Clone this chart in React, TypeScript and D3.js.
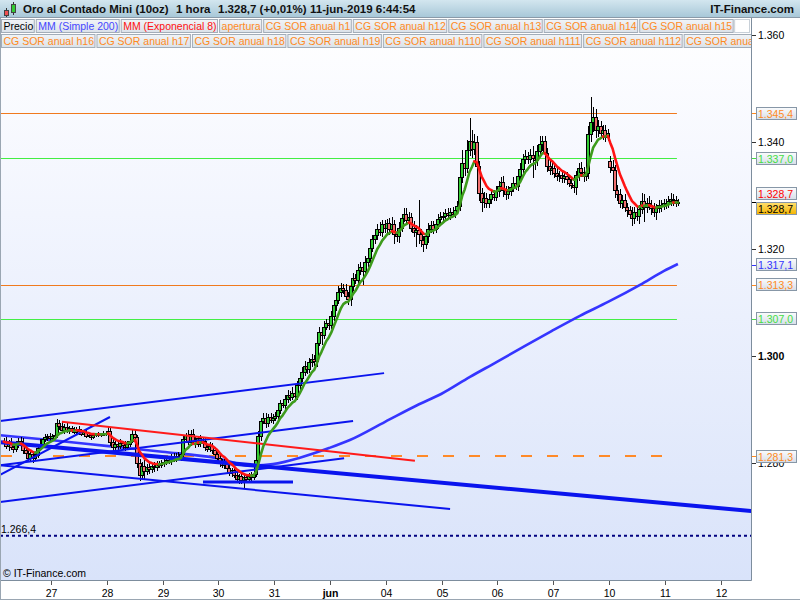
import React, { useEffect } from "react";
import * as d3 from "d3";

// ---------- DATA ----------
const dayLabels = ["27", "28", "29", "30", "31", "jun", "04", "05", "06", "07", "10", "11", "12"];
const candlesPerDay = 23;

// hourly closes (USD), one array per trading day
const may24Close = [1284.0, 1283.2, 1283.8, 1283.0, 1282.6, 1283.5, 1284.2, 1283.8, 1282.5, 1281.8, 1281.0, 1281.6, 1280.9, 1281.5, 1282.8, 1283.6, 1284.4, 1284.8, 1285.0, 1284.7];
const may27Close = [1285.0, 1285.3, 1287.5, 1287.0, 1286.2, 1286.8, 1286.0, 1286.5, 1286.2, 1285.8, 1286.4, 1286.0, 1285.5, 1285.8, 1285.0, 1285.2, 1284.8, 1285.3, 1285.2, 1285.4, 1285.3, 1285.5, 1285.4];
const may28Close = [1286.0, 1284.0, 1283.0, 1283.5, 1283.2, 1283.8, 1283.4, 1283.0, 1283.6, 1284.2, 1285.5, 1284.8, 1280.0, 1277.8, 1279.5, 1278.5, 1279.2, 1278.8, 1279.5, 1279.2, 1279.8, 1279.6, 1280.0];
const may29Close = [1280.2, 1280.6, 1280.4, 1281.0, 1280.8, 1281.4, 1281.0, 1281.6, 1284.5, 1285.2, 1284.0, 1285.5, 1284.2, 1283.5, 1284.6, 1283.8, 1284.2, 1283.0, 1282.6, 1283.2, 1282.4, 1281.6, 1281.0];
const may30Close = [1280.0, 1279.6, 1280.2, 1279.0, 1278.2, 1278.6, 1277.8, 1277.0, 1277.5, 1276.8, 1277.3, 1277.0, 1277.6, 1277.4, 1278.0, 1280.5, 1285.0, 1287.8, 1288.5, 1287.5, 1288.6, 1288.0, 1288.4];
const may31Close = [1288.8, 1290.0, 1291.2, 1290.8, 1292.0, 1292.8, 1292.4, 1293.0, 1292.6, 1294.5, 1295.8, 1297.0, 1298.2, 1297.6, 1298.8, 1299.5, 1299.0, 1302.5, 1304.5, 1304.0, 1305.5, 1306.2, 1305.8];
const jun03Close = [1307.5, 1309.5, 1310.5, 1312.0, 1312.8, 1312.4, 1311.2, 1310.6, 1313.0, 1314.5, 1314.2, 1316.0, 1316.6, 1315.8, 1317.6, 1318.4, 1320.2, 1321.8, 1322.6, 1323.8, 1323.2, 1324.6, 1324.0];
const jun04Close = [1324.8, 1323.8, 1324.6, 1322.8, 1322.4, 1324.0, 1325.8, 1326.6, 1325.4, 1326.0, 1324.0, 1323.2, 1323.6, 1322.8, 1321.6, 1321.0, 1322.4, 1323.8, 1324.4, 1323.8, 1324.6, 1325.6, 1326.0];
const jun05Close = [1326.2, 1326.8, 1326.4, 1327.0, 1326.6, 1327.2, 1328.0, 1333.5, 1336.0, 1335.2, 1338.5, 1340.2, 1338.6, 1340.0, 1335.5, 1330.5, 1328.8, 1329.6, 1328.6, 1329.4, 1330.2, 1329.8, 1330.8];
const jun06Close = [1331.8, 1332.6, 1331.0, 1330.2, 1330.8, 1331.6, 1332.4, 1331.8, 1333.6, 1335.0, 1336.8, 1337.4, 1336.8, 1337.6, 1337.0, 1336.6, 1338.4, 1339.6, 1340.2, 1338.0, 1335.6, 1334.8, 1335.2];
const jun07Close = [1334.2, 1333.6, 1333.8, 1333.2, 1333.6, 1333.0, 1332.4, 1332.0, 1331.6, 1333.8, 1335.2, 1334.4, 1333.6, 1334.2, 1341.5, 1343.8, 1344.6, 1342.2, 1343.0, 1341.6, 1342.2, 1341.0, 1341.6];
const jun10Close = [1335.4, 1334.8, 1331.0, 1330.2, 1328.6, 1329.2, 1327.8, 1327.2, 1326.6, 1325.8, 1327.0, 1326.2, 1327.4, 1329.0, 1327.8, 1328.6, 1328.2, 1327.6, 1327.0, 1327.6, 1328.2, 1328.0, 1328.6];
const jun11Close = [1328.4, 1329.0, 1329.4, 1329.2, 1328.6, 1328.7];

// upper / lower wick beyond the body (USD)
const may24Up = [0.6, 0.8, 0.5, 0.9, 0.4, 0.7, 0.5, 0.6, 0.8, 0.5, 0.9, 0.6, 0.7, 0.5, 0.6, 0.8, 0.5, 0.7, 0.4, 0.6];
const may24Dn = [0.7, 0.5, 0.9, 0.6, 0.8, 0.5, 0.7, 0.6, 0.9, 0.8, 0.6, 0.7, 0.9, 0.5, 0.6, 0.4, 0.7, 0.5, 0.6, 0.5];
const may27Up = [0.4, 0.6, 0.8, 0.5, 0.7, 0.4, 0.6, 0.5, 0.4, 0.6, 0.3, 0.5, 0.4, 0.3, 0.5, 0.4, 0.3, 0.4, 0.3, 0.4, 0.3, 0.4, 0.5];
const may27Dn = [0.5, 0.4, 0.6, 0.8, 0.5, 0.7, 0.4, 0.6, 0.5, 0.4, 0.6, 0.5, 0.4, 0.5, 0.3, 0.4, 0.5, 0.3, 0.4, 0.3, 0.4, 0.3, 0.4];
const may28Up = [0.8, 0.6, 0.5, 0.7, 0.5, 0.6, 0.4, 0.7, 0.5, 0.6, 0.9, 0.6, 0.5, 0.8, 0.7, 1.0, 0.6, 0.8, 0.5, 0.7, 0.6, 0.5, 0.6];
const may28Dn = [0.6, 0.8, 0.7, 0.5, 0.9, 0.6, 0.7, 0.8, 0.5, 0.6, 0.5, 0.7, 0.9, 1.2, 0.8, 1.5, 0.7, 0.9, 0.6, 0.8, 0.7, 0.5, 0.6];
const may29Up = [0.6, 0.5, 0.7, 0.6, 0.8, 0.5, 0.7, 0.6, 0.8, 0.5, 0.9, 0.6, 0.8, 0.7, 0.5, 0.6, 0.7, 0.5, 0.6, 0.8, 0.5, 0.6, 0.7];
const may29Dn = [0.7, 0.6, 0.5, 0.8, 0.6, 0.7, 0.5, 0.6, 0.9, 0.7, 0.6, 0.8, 0.5, 0.7, 0.6, 0.8, 0.5, 0.7, 0.6, 0.5, 0.7, 0.6, 0.8];
const may30Up = [0.6, 0.7, 0.5, 0.6, 0.8, 0.5, 0.6, 0.7, 0.5, 0.6, 0.4, 0.6, 0.5, 0.7, 0.6, 0.8, 0.9, 0.7, 0.8, 0.9, 0.6, 0.8, 0.7];
const may30Dn = [0.7, 0.5, 0.8, 0.6, 0.7, 0.9, 0.6, 0.8, 1.0, 0.7, 1.5, 0.8, 0.6, 0.7, 0.5, 0.6, 0.7, 0.8, 0.6, 0.9, 0.7, 0.6, 0.8];
const may31Up = [0.8, 0.9, 0.6, 0.8, 0.7, 0.9, 0.6, 1.2, 0.7, 0.8, 0.9, 1.0, 0.8, 0.7, 0.9, 0.8, 0.6, 1.0, 0.9, 0.7, 1.1, 0.8, 0.6];
const may31Dn = [0.6, 0.7, 0.8, 0.6, 0.9, 0.7, 0.8, 0.6, 0.7, 0.8, 0.9, 0.7, 0.8, 1.0, 0.7, 0.9, 0.8, 1.0, 0.7, 2.0, 0.8, 0.7, 0.9];
const jun03Up = [0.9, 1.0, 0.8, 1.1, 0.9, 0.7, 1.0, 0.8, 0.9, 1.0, 0.8, 1.2, 0.9, 0.8, 1.0, 0.7, 1.1, 0.9, 1.0, 0.8, 1.2, 0.9, 0.8];
const jun03Dn = [0.8, 0.9, 1.0, 0.7, 0.9, 0.8, 0.7, 1.0, 1.2, 0.9, 0.8, 1.0, 0.9, 2.5, 0.8, 0.9, 1.0, 0.8, 0.9, 1.0, 0.8, 0.9, 1.0];
const jun04Up = [0.9, 1.0, 1.3, 0.8, 0.9, 1.0, 0.8, 1.1, 1.0, 0.9, 0.8, 1.2, 0.9, 5.5, 1.0, 0.9, 0.8, 1.0, 0.9, 0.8, 1.1, 0.9, 1.0];
const jun04Dn = [1.0, 1.2, 0.9, 1.8, 1.0, 1.3, 0.9, 0.8, 1.0, 1.2, 0.9, 1.0, 2.8, 1.8, 1.2, 1.5, 1.0, 1.2, 0.9, 1.0, 0.8, 0.9, 1.0];
const jun05Up = [0.8, 0.7, 0.9, 0.6, 0.8, 0.7, 0.9, 1.2, 2.5, 1.5, 1.8, 4.3, 2.0, 1.5, 1.2, 1.0, 0.9, 1.0, 0.8, 0.9, 0.7, 0.8, 0.9];
const jun05Dn = [0.7, 0.8, 0.6, 0.9, 0.7, 0.8, 0.6, 0.9, 1.2, 1.5, 1.0, 1.2, 1.5, 1.0, 1.8, 1.5, 1.8, 1.2, 1.0, 0.9, 1.0, 0.8, 0.9];
const jun06Up = [0.9, 0.8, 1.0, 0.7, 0.9, 0.8, 1.0, 0.9, 1.2, 1.0, 0.9, 1.1, 0.8, 1.0, 1.6, 0.9, 1.0, 1.5, 1.0, 1.0, 0.9, 1.0, 0.8];
const jun06Dn = [1.0, 0.9, 1.2, 1.0, 0.8, 0.9, 1.0, 0.8, 0.9, 1.0, 0.8, 0.9, 1.0, 0.8, 3.7, 1.8, 1.0, 0.9, 1.2, 1.0, 1.2, 1.0, 0.9];
const jun07Up = [0.8, 0.9, 0.7, 0.8, 0.9, 0.7, 0.8, 0.9, 0.8, 0.7, 0.9, 1.0, 0.9, 0.8, 1.5, 4.6, 2.0, 1.5, 1.2, 1.0, 0.9, 1.0, 0.8];
const jun07Dn = [0.9, 0.8, 1.0, 0.9, 0.8, 1.0, 0.9, 0.8, 1.1, 1.5, 1.0, 0.9, 1.0, 0.9, 1.2, 1.5, 2.0, 1.5, 1.2, 1.0, 1.2, 1.0, 0.9];
const jun10Up = [1.0, 1.2, 0.9, 1.0, 1.1, 0.9, 1.0, 0.8, 0.9, 1.2, 0.9, 1.0, 0.8, 1.5, 1.2, 1.0, 1.3, 0.9, 1.0, 0.8, 0.9, 1.0, 0.8];
const jun10Dn = [1.2, 1.0, 1.5, 1.2, 1.0, 1.2, 0.9, 1.2, 1.0, 1.5, 1.2, 1.0, 1.5, 0.9, 2.8, 1.0, 0.9, 1.2, 1.0, 1.5, 0.9, 1.0, 0.8];
const jun11Up = [0.8, 0.9, 1.0, 0.8, 0.7, 0.6];
const jun11Dn = [0.9, 0.8, 1.0, 1.2, 0.8, 0.5];

// candles whose open gaps away from the previous close (time index, open)
const gapTime = [230];
const gapOpen = [1336.4];

// 200-period simple moving average, sampled (time index, value)
const smaTime = [-21.0, -0.4, 22.7, 45.8, 68.4, 82.0, 91.5, 102.6, 114.6, 123.2, 137.7, 150.9, 160.8, 172.7, 183.8, 195.4, 206.5, 218.0, 229.6, 242.8, 252.7, 258.4];
const smaValue = [1285.2, 1284.3, 1283.2, 1282.1, 1280.9, 1279.5, 1279.8, 1281.0, 1282.8, 1284.3, 1287.7, 1290.8, 1292.9, 1296.1, 1298.9, 1301.9, 1304.7, 1307.5, 1310.1, 1313.3, 1315.9, 1317.2];

// drawn trend lines (time index / price at both ends)
const trendT1 = [-21.0, -21.0, -21.0, -21.0, -21.0, 62.65, -21.0, 4.5];
const trendP1 = [1287.85, 1277.8, 1279.6, 1272.7, 1279.6, 1276.45, 1283.9, 1287.7];
const trendT2 = [137.3, 24.3, 124.5, 120.8, 164.5, 99.75, 289.0, 150.0];
const trendP2 = [1296.8, 1288.6, 1287.85, 1280.9, 1271.4, 1276.45, 1271.0, 1280.4];
const trendKind = ["thin", "thin", "thin", "thin", "thin", "mid", "thick", "red"];

// horizontal levels
const levelValues = [1345.4, 1337.0, 1313.3, 1307.0];
const levelKind = ["orange", "green", "orange", "green"];
const aperturaValue = 1281.3;
const supportValue = 1266.4;
const lastTime = 258;

const yTicks = [1360, 1340, 1320, 1300, 1280];

const priceLabelValues = [1345.4, 1337.0, 1328.7, 1328.7, 1317.1, 1313.3, 1307.0, 1281.3];
const priceLabelKind = ["orange", "green", "ema", "last", "sma", "orange", "green", "orange"];

const legendRow1 = ["Precio", "MM (Simple 200)", "MM (Exponencial 8)", "apertura", "CG SOR anual h1", "CG SOR anual h12", "CG SOR anual h13", "CG SOR anual h14", "CG SOR anual h15"];
const legendRow2 = ["CG SOR anual h16", "CG SOR anual h17", "CG SOR anual h18", "CG SOR anual h19", "CG SOR anual h110", "CG SOR anual h111", "CG SOR anual h112", "CG SOR anua"];

const titleParts = ["Oro al Contado Mini (10oz)", "1 hora", "1.328,7 (+0,01%)", "11-jun-2019 6:44:54"];

// ---------- STYLE ----------
const FONT = "'Liberation Sans', Arial, Helvetica, sans-serif";
const ORANGE = "#ff8a1e";
const GREEN_TXT = "#44dd44";
const colors: Record<string, string> = {
  orange: "#f07a1e",
  green: "#44ee44",
  thin: "#0a14ee",
  mid: "#0a14ee",
  thick: "#0a14ee",
  red: "#ff1a1a",
};
const widths: Record<string, number> = { thin: 2, mid: 3, thick: 4, red: 2 };
const labelText: Record<string, string> = {
  orange: ORANGE, green: GREEN_TXT, ema: "#ff0000", last: "#000000", sma: "#3333ff",
};
const labelOffset: Record<string, number> = { ema: -9, last: 6 };

const loc = d3.formatLocale({ decimal: ",", thousands: ".", grouping: [3], currency: ["", ""] });
const fmtTick = loc.format(",.0f");
const fmtPrice = loc.format(",.1f");

function measure(s: string, font: string): number {
  try {
    const ctx = document.createElement("canvas").getContext("2d");
    if (ctx) { ctx.font = font; return ctx.measureText(s).width; }
  } catch (e) { /* ignore */ }
  return s.length * 5.6;
}

export default function App() {
  useEffect(() => { document.body.style.margin = "0"; }, []);

  const x = d3.scaleLinear().domain([0, candlesPerDay]).range([51, 106.8]);
  const y = d3.scaleLinear().domain([1260, 1360]).range([570, 35]);

  const closes = [...may24Close, ...may27Close, ...may28Close, ...may29Close, ...may30Close, ...may31Close, ...jun03Close, ...jun04Close, ...jun05Close, ...jun06Close, ...jun07Close, ...jun10Close, ...jun11Close];
  const ups = [...may24Up, ...may27Up, ...may28Up, ...may29Up, ...may30Up, ...may31Up, ...jun03Up, ...jun04Up, ...jun05Up, ...jun06Up, ...jun07Up, ...jun10Up, ...jun11Up];
  const dns = [...may24Dn, ...may27Dn, ...may28Dn, ...may29Dn, ...may30Dn, ...may31Dn, ...jun03Dn, ...jun04Dn, ...jun05Dn, ...jun06Dn, ...jun07Dn, ...jun10Dn, ...jun11Dn];
  const t0 = -may24Close.length;

  const candles = closes.map((c, k) => {
    const t = t0 + k;
    const gi = gapTime.indexOf(t);
    const o = gi >= 0 ? gapOpen[gi] : k === 0 ? c : closes[k - 1];
    return { t, o, c, h: Math.max(o, c) + (ups[k] ?? 0), l: Math.min(o, c) - (dns[k] ?? 0) };
  });

  // EMA 8
  const alpha = 2 / 9;
  const ema: number[] = [];
  closes.forEach((c, k) => ema.push(k === 0 ? c : alpha * c + (1 - alpha) * ema[k - 1]));
  const runs: { color: string; pts: [number, number][] }[] = [];
  for (let k = 1; k < ema.length; k++) {
    const color = ema[k] >= ema[k - 1] ? "#3d9b1c" : "#ff1414";
    const p0: [number, number] = [x(t0 + k - 1 + 0.5), y(ema[k - 1])];
    const p1: [number, number] = [x(t0 + k + 0.5), y(ema[k])];
    const last = runs[runs.length - 1];
    if (last && last.color === color) last.pts.push(p1);
    else runs.push({ color, pts: [p0, p1] });
  }
  const lineGen = d3.line<[number, number]>().x((d) => d[0]).y((d) => d[1]);

  const smaPath = d3.line<number>()
    .x((_, i) => x(smaTime[i]))
    .y((v) => y(v))
    .curve(d3.curveMonotoneX)(smaValue) || "";

  const plotR = 751.5;
  const plotB = 580.5;
  const xEndLevels = x(lastTime);

  const legendFont = `10.5px ${FONT}`;
  const layoutRow = (items: string[]) => {
    let cur = 1;
    return items.map((s, i) => {
      const w = measure(s, legendFont) + 3;
      const r = { s, x: cur, w: i === items.length - 1 && s.endsWith("anua") ? 751 - cur : w };
      cur += w + 2;
      return r;
    });
  };
  const row1 = layoutRow(legendRow1);
  const row2 = layoutRow(legendRow2);
  const legendColor = (s: string) =>
    s === "Precio" ? "#000" : s.startsWith("MM (S") ? "#4646ff" : s.startsWith("MM (E") ? "#ff1010" : ORANGE;
  const row1End = row1[row1.length - 1].x + row1[row1.length - 1].w;

  const titleX = [23, 176, 218, 310];

  return (
    <svg width={800} height={600} style={{ display: "block", position: "absolute", left: 0, top: 0 }} fontFamily={FONT}>
      <defs>
        <linearGradient id="plotBg" x1="0" y1="0" x2="0" y2="1">
          <stop offset="0" stopColor="#ffffff" />
          <stop offset="0.35" stopColor="#f2f5fe" />
          <stop offset="1" stopColor="#d9e3fa" />
        </linearGradient>
        <linearGradient id="headBg" x1="0" y1="0" x2="0" y2="1">
          <stop offset="0" stopColor="#d3e6ef" />
          <stop offset="1" stopColor="#a8c8d8" />
        </linearGradient>
        <linearGradient id="legBg" x1="0" y1="0" x2="0" y2="1">
          <stop offset="0" stopColor="#f1f4f7" />
          <stop offset="1" stopColor="#dbe2e9" />
        </linearGradient>
        <linearGradient id="lblBg" x1="0" y1="0" x2="0" y2="1">
          <stop offset="0" stopColor="#fbfcfd" />
          <stop offset="1" stopColor="#d6dee8" />
        </linearGradient>
        <linearGradient id="lastBg" x1="0" y1="0" x2="0" y2="1">
          <stop offset="0" stopColor="#ffe070" />
          <stop offset="1" stopColor="#f5b400" />
        </linearGradient>
        <clipPath id="plotClip">
          <rect x={0} y={17} width={751} height={563} />
        </clipPath>
        <clipPath id="legClip">
          <rect x={0} y={17} width={751} height={33} />
        </clipPath>
      </defs>

      <rect x={0} y={0} width={800} height={600} fill="#ffffff" />
      <rect x={0} y={17} width={751.5} height={563.5} fill="url(#plotBg)" />

      <g clipPath="url(#plotClip)">
        {/* horizontal levels */}
        {levelValues.map((v, i) => (
          <line key={"lv" + i} x1={0} x2={xEndLevels} y1={Math.round(y(v)) + 0.5} y2={Math.round(y(v)) + 0.5}
            stroke={colors[levelKind[i]]} strokeWidth={1} />
        ))}
        <line x1={1} x2={x(252.7)} y1={y(aperturaValue)} y2={y(aperturaValue)} stroke="#ff8a28" strokeWidth={2} strokeDasharray="11,15" />
        <line x1={0} x2={751} y1={y(supportValue)} y2={y(supportValue)} stroke="#000080" strokeWidth={2} strokeDasharray="3,3" />

        {/* SMA 200 */}
        <path d={smaPath} fill="none" stroke="#3535ff" strokeWidth={2.6} />

        {/* candles */}
        {candles.map((d) => {
          const cx = Math.round(x(d.t + 0.5));
          const yo = y(d.o), yc = y(d.c);
          const top = Math.round(Math.min(yo, yc));
          const bot = Math.round(Math.max(yo, yc));
          const up = d.c >= d.o;
          return (
            <g key={"c" + d.t}>
              <line x1={cx + 0.5} x2={cx + 0.5} y1={Math.round(y(d.h))} y2={Math.round(y(d.l))} stroke="#000" strokeWidth={1} />
              {bot - top < 1 ? (
                <line x1={cx - 1.5} x2={cx + 2.5} y1={top + 0.5} y2={top + 0.5} stroke="#000" strokeWidth={1} />
              ) : (
                <rect x={cx - 1.5} y={top + 0.5} width={3} height={bot - top} fill={up ? "#33cc33" : "#f07070"} stroke="#000" strokeWidth={1} />
              )}
            </g>
          );
        })}

        {/* trend lines */}
        {trendT1.map((t1, i) => (
          <line key={"tr" + i} x1={x(t1)} y1={y(trendP1[i])} x2={x(trendT2[i])} y2={y(trendP2[i])}
            stroke={colors[trendKind[i]]} strokeWidth={widths[trendKind[i]]} />
        ))}

        {/* EMA 8 */}
        {runs.map((r, i) => (
          <path key={"e" + i} d={lineGen(r.pts) || ""} fill="none" stroke={r.color} strokeWidth={2.6} strokeLinejoin="round" strokeLinecap="round" />
        ))}

        <text x={1} y={533} fontSize={10.5} fill="#000">{fmtPrice(supportValue)}</text>
        <text x={3} y={577} fontSize={10.5} fill="#000">© IT-Finance.com</text>
      </g>

      {/* legend */}
      <g clipPath="url(#legClip)" fontSize={10.5}>
        {row1.map((b, i) => (
          <g key={"l1" + i}>
            <rect x={b.x + 0.5} y={19.5} width={b.w} height={13} fill="url(#legBg)" stroke="#a3adb8" />
            <text x={b.x + 2.5} y={30} fill={legendColor(b.s)}>{b.s}</text>
          </g>
        ))}
        <rect x={row1End + 2} y={19.5} width={Math.max(0, 749.5 - row1End - 2)} height={13} fill="#ffffff" stroke="#c8d0d8" />
        {row2.map((b, i) => (
          <g key={"l2" + i}>
            <rect x={b.x + 0.5} y={34.5} width={b.w} height={13} fill="url(#legBg)" stroke="#a3adb8" />
            <text x={b.x + 2.5} y={45} fill={legendColor(b.s)}>{b.s}</text>
          </g>
        ))}
      </g>

      {/* frame */}
      <line x1={plotR} x2={plotR} y1={17} y2={plotB} stroke="#7d8d9d" />
      <line x1={0} x2={plotR} y1={plotB} y2={plotB} stroke="#7d8d9d" />
      <line x1={0.5} x2={0.5} y1={17} y2={600} stroke="#9aa6b2" />
      <line x1={0} x2={800} y1={599.5} y2={599.5} stroke="#9aa6b2" />

      {/* right axis */}
      {yTicks.map((v) => (
        <g key={"yt" + v}>
          <line x1={752} x2={756} y1={Math.round(y(v)) + 0.5} y2={Math.round(y(v)) + 0.5} stroke="#333" />
          <text x={758} y={y(v) + 4} fontSize={10.5} fontWeight={v % 100 === 0 ? "bold" : "normal"} fill="#000">{fmtTick(v)}</text>
        </g>
      ))}
      {priceLabelValues.map((v, i) => {
        const kind = priceLabelKind[i];
        const cy = y(v) + (labelOffset[kind] ?? 0);
        const tickColor = kind === "last" ? "#000" : labelText[kind];
        return (
          <g key={"pl" + i}>
            <line x1={752} x2={756} y1={Math.round(y(v)) + 0.5} y2={Math.round(y(v)) + 0.5} stroke={tickColor} />
            <rect x={756.5} y={Math.round(cy - 6.5) + 0.5} width={40} height={12} fill={kind === "last" ? "url(#lastBg)" : "url(#lblBg)"} stroke="#8797a7" />
            <text x={758} y={Math.round(cy - 6.5) + 11} fontSize={10.5} fill={labelText[kind]}>{fmtPrice(v)}</text>
          </g>
        );
      })}

      {/* bottom axis */}
      {dayLabels.map((s, k) => {
        const tx = Math.round(x(k * candlesPerDay)) + 0.5;
        return (
          <g key={"xd" + k}>
            <line x1={tx} x2={tx} y1={581} y2={585} stroke="#555" />
            <text x={tx} y={597} fontSize={10.5} textAnchor="middle" fontWeight={s === "jun" ? "bold" : "normal"} fill="#000">{s}</text>
          </g>
        );
      })}

      {/* header */}
      <rect x={0} y={0} width={800} height={17} fill="url(#headBg)" />
      <line x1={0} x2={800} y1={17.5} y2={17.5} stroke="#8a9aa8" />
      <g>
        <line x1={6.5} x2={6.5} y1={8} y2={17} stroke="#333" />
        <rect x={4.5} y={10.5} width={4} height={5} fill="#f05050" stroke="#444" />
        <line x1={13.5} x2={13.5} y1={2} y2={15} stroke="#333" />
        <rect x={11.5} y={4.5} width={4} height={8} fill="#33cc33" stroke="#444" />
      </g>
      {titleParts.map((s, i) => (
        <text key={"tt" + i} x={titleX[i]} y={13} fontSize={11.5} fontWeight="bold" fill="#111">{s}</text>
      ))}
      <text x={794} y={13} fontSize={11.5} fontWeight="bold" textAnchor="end" fill="#111">IT-Finance.com</text>
    </svg>
  );
}
